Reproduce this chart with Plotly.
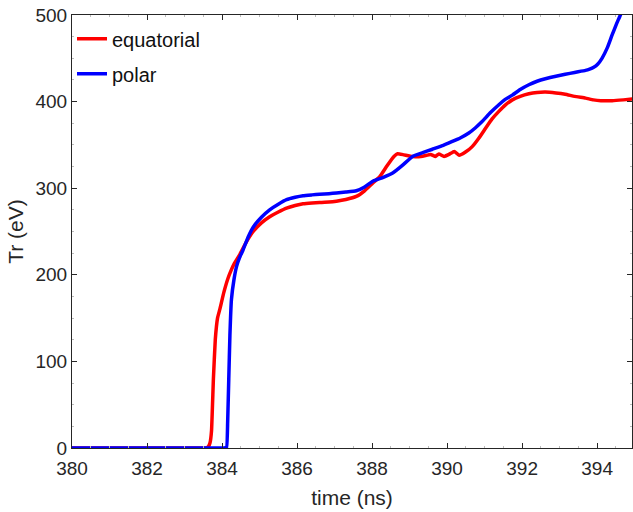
import plotly.graph_objects as go

eq_time = [380, 383.4, 383.55, 383.6, 383.64, 383.68, 383.72, 383.77, 383.82, 383.88, 383.94, 384.05,
           384.16, 384.25, 384.34, 384.48, 384.65, 384.83, 385.05, 385.27, 385.5, 385.72,
           385.95, 386.16, 386.4, 386.6, 386.85, 387.05, 387.3, 387.58, 387.8, 388.02,
           388.2, 388.4, 388.59, 388.68, 388.85, 389.08, 389.35, 389.56, 389.69, 389.78,
           389.92, 390.05, 390.19, 390.32, 390.5, 390.67, 390.85, 391.03, 391.2, 391.38,
           391.55, 391.74, 391.95, 392.18, 392.4, 392.62, 392.9, 393.15, 393.4, 393.69,
           393.9, 394.1, 394.4, 394.7, 394.95]
eq_tr = [0, 0, 0, 0.5, 2, 6, 20, 80, 125, 150, 160, 180,
         196, 206, 214, 224, 238, 250, 260, 267, 272.5, 277,
         280, 282, 283, 283.5, 284, 285, 287, 290.5, 297, 306,
         313, 326, 337, 339.8, 338.5, 336.5, 337, 339, 336.7, 339.6,
         336.7, 339, 342.5, 338, 342, 348, 358, 369.5, 380, 388.7,
         396, 402, 406, 409, 410.5, 411, 410, 408.5, 406, 404,
         402, 401, 401, 402, 403]

pol_time = [380, 383.9, 384.05, 384.12, 384.15, 384.18, 384.21, 384.25, 384.32, 384.39, 384.47, 384.56,
            384.7, 384.83, 385.05, 385.27, 385.5, 385.72, 385.95, 386.16, 386.4, 386.6,
            386.85, 387.05, 387.3, 387.58, 387.8, 388.02, 388.3, 388.55, 388.8, 389.08,
            389.35, 389.61, 389.9, 390.14, 390.35, 390.58, 390.75, 390.94, 391.15, 391.38,
            391.55, 391.74, 391.95, 392.18, 392.4, 392.62, 392.9, 393.15, 393.4, 393.69,
            393.8, 393.91, 394.02, 394.13, 394.27, 394.4, 394.52, 394.62, 394.75]
pol_tr = [0, 0, 0, 0.5, 30, 80, 130, 171, 195, 210, 220, 228.7,
          244, 255, 266.5, 275, 281.5, 286.7, 289.5, 291.3, 292.3, 293,
          293.7, 294.4, 295.5, 297, 301.5, 308, 312.5, 317.5, 326, 336.7,
          341, 345, 349.5, 354, 358, 363.7, 369.5, 377.2, 387, 396.4,
          402.5, 407.5, 414, 419.5, 423.5, 426.4, 429.3, 431.5, 433.7, 436,
          437.5, 439.6, 443.5, 450, 462, 477, 490, 500, 515]

x_ticks = [380, 382, 384, 386, 388, 390, 392, 394]
y_ticks = [0, 100, 200, 300, 400, 500]

fig = go.Figure()
fig.add_trace(go.Scatter(x=eq_time, y=eq_tr, mode="lines", name="equatorial", legendgroup="a",
                         line=dict(color="#ff0000", width=3.5, shape="spline", smoothing=0.35)))
fig.add_trace(go.Scatter(x=pol_time, y=pol_tr, mode="lines", name="polar", legendgroup="b",
                         line=dict(color="#0000ff", width=3.5, shape="spline", smoothing=0.35)))

axis_common = dict(
    showgrid=False, zeroline=False, showline=True, linecolor="#262626", linewidth=1,
    mirror="ticks", ticks="inside", ticklen=5, tickcolor="#262626", tickwidth=1,
    automargin=False,
    tickfont=dict(family="Liberation Sans, Arial, sans-serif", size=19, color="#262626"),
    minor=dict(ticks="inside", ticklen=2, tickcolor="#bbbbbb", showgrid=False),
)

fig.update_layout(
    width=633, height=512,
    margin=dict(l=72, r=1, t=15, b=64),
    paper_bgcolor="white", plot_bgcolor="white",
    font=dict(family="Liberation Sans, Arial, sans-serif", color="#262626"),
    showlegend=True,
    legend=dict(x=0.0, y=0.99, xanchor="left", yanchor="top",
                bgcolor="rgba(255,255,255,0)", borderwidth=0,
                font=dict(size=20, color="#111111"),
                tracegroupgap=6, traceorder="grouped"),
    xaxis=dict(range=[380, 394.93], tickvals=x_ticks, ticktext=[str(v) for v in x_ticks],
               ticklabelstandoff=3,
               title=dict(text="time (ns)", font=dict(size=21, color="#262626"), standoff=12),
               **axis_common),
    yaxis=dict(range=[0, 500], tickvals=y_ticks, ticktext=[str(v) for v in y_ticks],
               title=dict(text="Tr (eV)", font=dict(size=21, color="#262626"), standoff=6),
               **axis_common),
)
fig.update_xaxes(minor=dict(dtick=0.5))
fig.update_yaxes(minor=dict(dtick=25))

fig.write_html("out.html", config={"displayModeBar": False},
               post_script="document.body.style.margin='0';document.body.style.overflow='hidden';")
